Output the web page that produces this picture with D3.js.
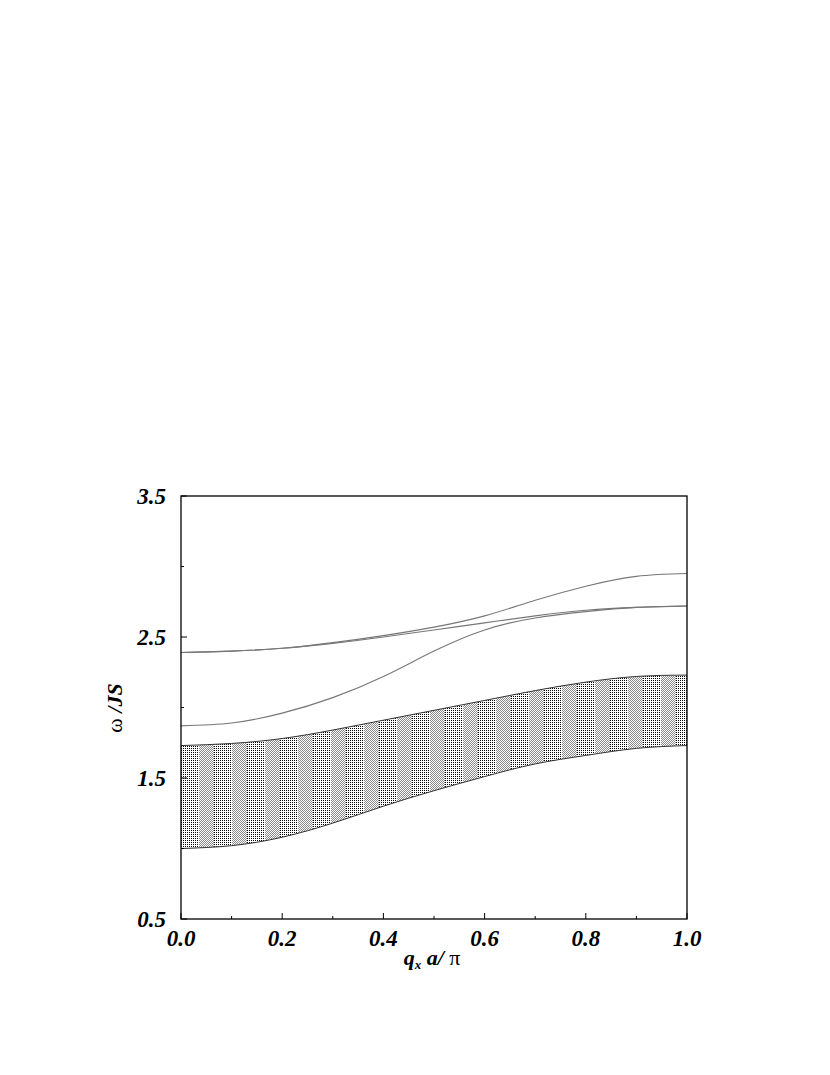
<!DOCTYPE html>
<meta charset="utf-8">
<style>
body {
  margin: 0;
  background: #fff;
}
text {
  font-family: "Liberation Serif", "Times New Roman", serif;
  font-weight: bold;
  font-style: italic;
}
.axis-line {
  fill: none;
  stroke: #000;
  stroke-width: 1.3px;
}
.band-edge {
  fill: none;
  stroke: #333;
  stroke-width: 1px;
}
.mode {
  fill: none;
  stroke: #777;
  stroke-width: 1.1px;
}
</style>
<body>
<script src="https://cdn.jsdelivr.net/npm/d3@7"></script>
<script>
var width = 830,
    height = 1075;

// q_x a / pi sample points
var qs = [0.0, 0.1, 0.2, 0.3, 0.4, 0.5, 0.6, 0.7, 0.8, 0.9, 1.0];

// continuum band (shaded)
var bandLow  = [1.00, 1.02, 1.08, 1.18, 1.30, 1.41, 1.51, 1.60, 1.66, 1.71, 1.73];
var bandHigh = [1.73, 1.745, 1.78, 1.84, 1.91, 1.98, 2.05, 2.12, 2.18, 2.22, 2.23];

// discrete modes
var modeA = [1.87, 1.89, 1.96, 2.07, 2.22, 2.40, 2.55, 2.635, 2.68, 2.71, 2.72];
var modeB = [2.39, 2.40, 2.42, 2.455, 2.50, 2.55, 2.60, 2.65, 2.69, 2.71, 2.72];
var modeC = [2.39, 2.40, 2.42, 2.46, 2.51, 2.57, 2.65, 2.76, 2.86, 2.93, 2.95];

var xMajor = [0.0, 0.2, 0.4, 0.6, 0.8, 1.0],
    xMinor = [0.1, 0.3, 0.5, 0.7, 0.9];
var yMajor = [0.5, 1.5, 2.5, 3.5],
    yMinor = [1.0, 2.0, 3.0];

var plotL = 181, plotR = 687, plotT = 496, plotB = 919;

var x = d3.scaleLinear().domain([0, 1]).range([plotL, plotR]);
var y = d3.scaleLinear().domain([0.5, 3.5]).range([plotB, plotT]);

var svg = d3.select("body").append("svg")
    .attr("width", width)
    .attr("height", height)
    .style("display", "block");

// striped dot fill, like the printed halftone
var defs = svg.append("defs");
var pat = defs.append("pattern")
    .attr("id", "dots")
    .attr("patternUnits", "userSpaceOnUse")
    .attr("x", plotL)
    .attr("width", 33)
    .attr("height", 2)
    .attr("shape-rendering", "crispEdges");
pat.append("rect")
    .attr("width", 33).attr("height", 2)
    .attr("fill", "#fff");
// light checker part
pat.selectAll("rect.chk")
    .data(d3.range(18, 33))
  .enter().append("rect")
    .attr("class", "chk")
    .attr("x", function(d) { return d; })
    .attr("y", function(d) { return d % 2; })
    .attr("width", 1).attr("height", 1)
    .attr("fill", "#8a8a8a");
// dense dot columns
pat.selectAll("rect.dot")
    .data(d3.range(0, 18, 2))
  .enter().append("rect")
    .attr("class", "dot")
    .attr("x", function(d) { return d; })
    .attr("width", 1).attr("height", 1)
    .attr("fill", "#000");

// shaded continuum
var area = d3.area()
    .x(function(d, i) { return x(qs[i]); })
    .y0(function(d, i) { return y(bandLow[i]); })
    .y1(function(d, i) { return y(bandHigh[i]); })
    .curve(d3.curveNatural);

svg.append("path")
    .datum(qs)
    .attr("fill", "url(#dots)")
    .attr("d", area);

var line = d3.line()
    .x(function(d, i) { return x(qs[i]); })
    .y(function(d) { return y(d); })
    .curve(d3.curveNatural);

svg.selectAll(".band-edge")
    .data([bandLow, bandHigh])
  .enter().append("path")
    .attr("class", "band-edge")
    .attr("d", line);

svg.selectAll(".mode")
    .data([modeA, modeB, modeC])
  .enter().append("path")
    .attr("class", "mode")
    .attr("d", line);

// frame
svg.append("rect")
    .attr("class", "axis-line")
    .attr("x", plotL)
    .attr("y", plotT)
    .attr("width", plotR - plotL)
    .attr("height", plotB - plotT);

// ticks, pointing inward
svg.selectAll(".xmaj")
    .data(xMajor)
  .enter().append("line")
    .attr("x1", x).attr("x2", x)
    .attr("y1", plotB).attr("y2", plotB - 6)
    .attr("stroke", "#000");
svg.selectAll(".xmin")
    .data(xMinor)
  .enter().append("line")
    .attr("x1", x).attr("x2", x)
    .attr("y1", plotB).attr("y2", plotB - 3)
    .attr("stroke", "#000");
svg.selectAll(".ymaj")
    .data(yMajor)
  .enter().append("line")
    .attr("y1", y).attr("y2", y)
    .attr("x1", plotL).attr("x2", plotL + 6)
    .attr("stroke", "#000");
svg.selectAll(".ymin")
    .data(yMinor)
  .enter().append("line")
    .attr("y1", y).attr("y2", y)
    .attr("x1", plotL).attr("x2", plotL + 3)
    .attr("stroke", "#000");

// tick labels
svg.selectAll(".xlab")
    .data(xMajor)
  .enter().append("text")
    .attr("x", x)
    .attr("y", plotB + 27)
    .attr("text-anchor", "middle")
    .attr("font-size", 23)
    .text(function(d) { return d.toFixed(1); });
svg.selectAll(".ylab")
    .data(yMajor)
  .enter().append("text")
    .attr("x", plotL - 15)
    .attr("y", function(d) { return y(d) + 8; })
    .attr("text-anchor", "end")
    .attr("font-size", 23)
    .text(function(d) { return d.toFixed(1); });

// axis titles
var xt = svg.append("text")
    .attr("x", 432)
    .attr("y", 965)
    .attr("text-anchor", "middle")
    .attr("font-size", 22);
xt.append("tspan").text("q");
xt.append("tspan").attr("font-size", 13).attr("dy", 4).text("x");
xt.append("tspan").attr("dy", -4).text(" a/ ");
xt.append("tspan").attr("font-style", "normal").attr("font-weight", "normal").text("π");

var yt = svg.append("text")
    .attr("transform", "translate(122,708) rotate(-90)")
    .attr("text-anchor", "middle")
    .attr("font-size", 22);
yt.append("tspan").attr("font-style", "normal").attr("font-weight", "normal").text("ω ");
yt.append("tspan").text("/JS");
</script>
</body>
